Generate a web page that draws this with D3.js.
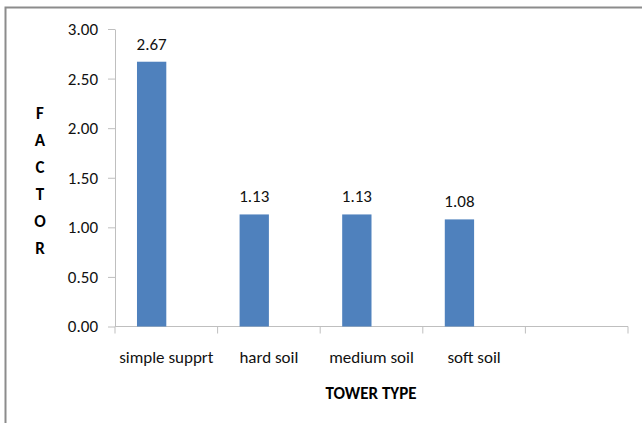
<!DOCTYPE html>
<html><head><meta charset="utf-8">
<script src="https://cdn.jsdelivr.net/npm/d3@7"></script>
<style>body{margin:0;background:#fff}svg{display:block}text{font-family:Carlito,Lato,"Liberation Sans",sans-serif}</style>
</head><body>
<script>
const categories = ["simple supprt", "hard soil", "medium soil", "soft soil", ""];
const values = [2.67, 1.13, 1.13, 1.08, null];
const yTicks = [0, 0.5, 1, 1.5, 2, 2.5, 3];
const yTitle = ["F", "A", "C", "T", "O", "R"];
const xTitle = "TOWER TYPE";

(function(){
const W = 642, H = 423, FS = 17;
const svg = d3.select("body").append("svg").attr("width", W).attr("height", H);

// outer frame (left & top visible)
svg.append("rect").attr("x", 5.5).attr("y", 7.5).attr("width", 700).attr("height", 500)
  .attr("fill", "none").attr("stroke", "#8c8c8c").attr("stroke-width", 2);

const pL = 115, pR = 628, pT = 29, pB = 326.5;
const x0 = d3.scaleBand().domain(categories.map((c,i)=>i)).range([pL, pR]);
const x1 = d3.scaleBand().domain(["s1","s2"]).range([0, x0.bandwidth()]).paddingInner(0).paddingOuter(0.75);
const y = d3.scaleLinear().domain([0, 3]).range([pB, pT]);

// y axis
const ya = svg.append("g").attr("transform", `translate(${pL},0)`)
  .call(d3.axisLeft(y).tickValues(yTicks).tickFormat(d3.format(".2f")).tickSize(7).tickSizeOuter(0).tickPadding(10));
ya.select(".domain").attr("stroke", "#bfbfbf");
ya.selectAll(".tick line").attr("stroke", "#bfbfbf");
ya.selectAll(".tick text").attr("font-size", FS).attr("fill", "#111");

// x axis
const xa = svg.append("g").attr("transform", `translate(0,${pB})`);
xa.append("line").attr("x1", pL).attr("x2", pR).attr("y1", 0).attr("y2", 0).attr("stroke", "#bfbfbf");
const edges = categories.map((c,i)=>x0(i)).concat([pR]);
xa.selectAll("line.t").data(edges).join("line").attr("class","t")
  .attr("x1", d=>d).attr("x2", d=>d).attr("y1", 0).attr("y2", 7).attr("stroke", "#bfbfbf");
xa.selectAll("text").data(categories).join("text")
  .attr("x", (d,i)=>x0(i)+x0.bandwidth()/2).attr("y", 36)
  .attr("text-anchor", "middle").attr("font-size", FS).attr("fill", "#111").text(d=>d);

// bars
const bars = categories.map((c,i)=>({i, v: values[i]})).filter(d=>d.v!=null);
svg.selectAll("rect.bar").data(bars).join("rect").attr("class","bar")
  .attr("x", d=>x0(d.i)+x1("s1")).attr("width", x1.bandwidth())
  .attr("y", d=>y(d.v)).attr("height", d=>y(0)-y(d.v)).attr("fill", "#4F81BD");
svg.selectAll("text.lbl").data(bars).join("text").attr("class","lbl")
  .attr("x", d=>x0(d.i)+x1("s1")+x1.bandwidth()/2).attr("y", d=>y(d.v)-12)
  .attr("text-anchor", "middle").attr("font-size", FS).attr("fill", "#111").text(d=>d.v.toFixed(2));

// y title stacked letters
svg.selectAll("text.yt").data(yTitle).join("text").attr("class","yt")
  .attr("x", 40).attr("y", (d,i)=>119 + i*27).attr("text-anchor","middle")
  .attr("font-size", FS).attr("font-weight","bold").attr("fill","#000").text(d=>d);

svg.append("text").attr("x", 371).attr("y", 399).attr("text-anchor","middle")
  .attr("font-size", FS).attr("font-weight","bold").attr("fill","#000").text(xTitle);
})();
</script>
</body></html>
